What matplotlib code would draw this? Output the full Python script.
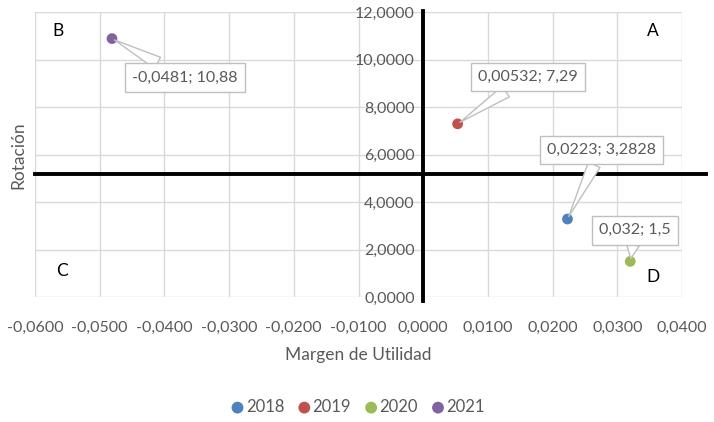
import matplotlib
matplotlib.use('Agg')
import matplotlib.pyplot as plt

# data
years = ['2018', '2019', '2020', '2021']
margen = [0.0223, 0.00532, 0.032, -0.0481]
rotacion = [3.2828, 7.29, 1.5, 10.88]
labels = ['0,0223; 3,2828', '0,00532; 7,29', '0,032; 1,5', '-0,0481; 10,88']
colors = ['#4f81bd', '#c0504d', '#9bbb59', '#8064a2']
# label offsets in pixels (box centre relative to point)
offsets = [(34, 69), (70, 47), (5, 31), (73, -39)]

x_ticks = [-0.06, -0.05, -0.04, -0.03, -0.02, -0.01, 0.0, 0.01, 0.02, 0.03, 0.04]
y_ticks = [0, 2, 4, 6, 8, 10, 12]
h_line = 5.2

plt.rcParams['font.family'] = ['Lato', 'DejaVu Sans']
gray = '#595959'

fig = plt.figure(figsize=(7.14, 4.22), dpi=100)
ax = fig.add_axes([35 / 714, 1 - 297 / 422, (682 - 35) / 714, (297 - 12) / 422])

for yr, mx, ry, c in zip(years, margen, rotacion, colors):
    ax.scatter(mx, ry, s=60, color=c, label=yr, zorder=5, edgecolors='none')

for mx, ry, txt, off in zip(margen, rotacion, labels, offsets):
    ax.annotate(txt, xy=(mx, ry), xytext=off, textcoords='offset pixels',
                ha='center', va='center', fontsize=11.5, color=gray, zorder=6,
                bbox=dict(boxstyle='square,pad=0.45', fc='white', ec='#bfbfbf', lw=1),
                arrowprops=dict(arrowstyle='wedge,tail_width=0.8,shrink_factor=0.5',
                                fc='white', ec='#bfbfbf', lw=1, shrinkA=0, shrinkB=2))

ax.set_xlim(-0.06, 0.04)
ax.set_ylim(0, 12)
ax.set_xticks(x_ticks)
ax.set_yticks(y_ticks)
ax.set_xticklabels([('%.4f' % v).replace('.', ',') for v in x_ticks])
ax.set_yticklabels([('%.4f' % v).replace('.', ',') for v in y_ticks])
ax.grid(True, color='#d9d9d9', lw=1)
ax.set_axisbelow(True)
for s in ['top', 'right', 'bottom']:
    ax.spines[s].set_visible(False)
ax.spines['left'].set_position(('data', 0))
ax.spines['left'].set_visible(False)
ax.tick_params(axis='both', length=0, labelsize=11.5, colors=gray)
ax.tick_params(axis='x', pad=17)
ax.tick_params(axis='y', pad=6)

# thick quadrant lines
ax.plot([0, 0], [-0.15, 12.05], color='black', lw=2.8, clip_on=False, zorder=4)
ax.plot([-0.06, 0.0437], [h_line, h_line], color='black', lw=2.8, clip_on=False, zorder=4)

# quadrant letters
ax.text(0.0355, 11.2, 'A', fontsize=12.5, color='black', ha='center', va='center')
ax.text(-0.0565, 11.2, 'B', fontsize=12.5, color='black', ha='center', va='center')
ax.text(-0.0558, 1.1, 'C', fontsize=12.5, color='black', ha='center', va='center')
ax.text(0.0355, 0.85, 'D', fontsize=12.5, color='black', ha='center', va='center')

ax.set_xlabel('Margen de Utilidad', fontsize=12.5, color=gray, labelpad=9)
fig.text(18 / 714, 1 - 155 / 422, 'Rotación', rotation=90, fontsize=12.5,
         color=gray, ha='center', va='center')

fig.legend(loc='center', bbox_to_anchor=(0.5, 1 - 407 / 422), ncol=4, frameon=False,
           fontsize=12, handletextpad=0.0, handlelength=1.0, columnspacing=0.7,
           labelcolor=gray, scatterpoints=1, markerscale=1.1)

fig.savefig('out.png', dpi=100)
